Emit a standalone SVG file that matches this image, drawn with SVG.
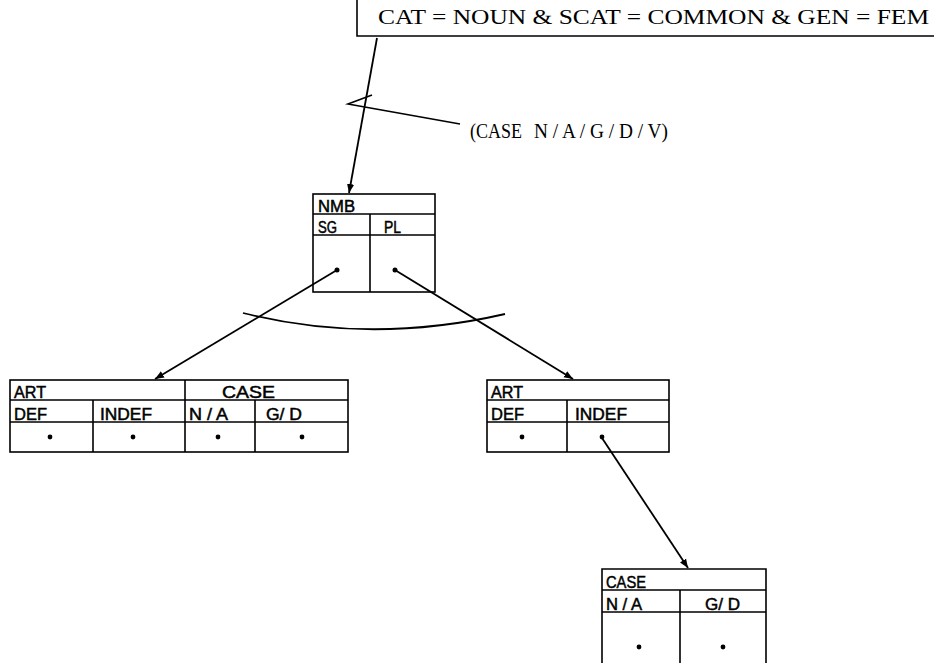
<svg xmlns="http://www.w3.org/2000/svg" width="934" height="663" viewBox="0 0 934 663">
<defs>
<marker id="ah" viewBox="0 0 10 10" refX="10" refY="5" markerWidth="9" markerHeight="9" markerUnits="userSpaceOnUse" orient="auto">
<path d="M0,1 L10,5 L0,9 z" fill="#000"/>
</marker>
<style>
.box{fill:none;stroke:#000;stroke-width:1.6}
.ln{fill:none;stroke:#000;stroke-width:1.6}
.con{fill:none;stroke:#000;stroke-width:1.8}
.lbl{font-family:"Liberation Sans Narrow","Liberation Sans",Arial,sans-serif;font-size:17px;fill:#000;stroke:#000;stroke-width:0.5}
.ser{font-family:"Liberation Serif","Times New Roman",serif;font-size:20px;fill:#000}
.dot{fill:#000}
</style>
</defs>
<rect width="934" height="663" fill="#fff"/>

<g id="header">
<path class="ln" d="M357,0 V36 H934"/>
<text class="ser" x="378" y="24" textLength="551" lengthAdjust="spacingAndGlyphs">CAT = NOUN &amp; SCAT = COMMON &amp; GEN = FEM</text>
</g>

<g id="case-label">
<path class="ln" d="M460,124 L348,104 L372,95"/>
<text class="ser" x="470" y="138" textLength="52" lengthAdjust="spacingAndGlyphs">(CASE</text>
<text class="ser" x="534" y="138" textLength="134" lengthAdjust="spacingAndGlyphs">N / A / G / D / V)</text>
</g>

<g id="nmb">
<rect class="box" x="313" y="194" width="122" height="98"/>
<path class="ln" d="M313,214 H435 M313,235 H435 M370,214 V292"/>
<text class="lbl" x="318" y="211.5" textLength="37" lengthAdjust="spacingAndGlyphs">NMB</text>
<text class="lbl" x="318" y="232.5" textLength="19" lengthAdjust="spacingAndGlyphs">SG</text>
<text class="lbl" x="384" y="232.5" textLength="17" lengthAdjust="spacingAndGlyphs">PL</text>
<circle class="dot" cx="337" cy="270" r="2.5"/>
<circle class="dot" cx="395" cy="270" r="2.5"/>
</g>

<g id="left-box">
<rect class="box" x="10" y="380" width="338" height="72"/>
<path class="ln" d="M10,400 H348 M10,422 H348 M185,380 V452 M93,400 V452 M255,400 V452"/>
<text class="lbl" x="14" y="397.5" textLength="32" lengthAdjust="spacingAndGlyphs">ART</text>
<text class="lbl" x="222" y="397.5" textLength="53" lengthAdjust="spacingAndGlyphs">CASE</text>
<text class="lbl" x="14" y="419.5" textLength="33" lengthAdjust="spacingAndGlyphs">DEF</text>
<text class="lbl" x="100" y="419.5" textLength="52" lengthAdjust="spacingAndGlyphs">INDEF</text>
<text class="lbl" x="189" y="419.5" textLength="39" lengthAdjust="spacingAndGlyphs">N / A</text>
<text class="lbl" x="266" y="419.5" textLength="36" lengthAdjust="spacingAndGlyphs">G/ D</text>
<circle class="dot" cx="50" cy="437" r="2.4"/>
<circle class="dot" cx="133" cy="437" r="2.4"/>
<circle class="dot" cx="218" cy="437" r="2.4"/>
<circle class="dot" cx="302" cy="437" r="2.4"/>
</g>

<g id="right-box">
<rect class="box" x="487" y="380" width="182" height="72"/>
<path class="ln" d="M487,400 H669 M487,422 H669 M567,400 V452"/>
<text class="lbl" x="491" y="397.5" textLength="32" lengthAdjust="spacingAndGlyphs">ART</text>
<text class="lbl" x="491" y="419.5" textLength="33" lengthAdjust="spacingAndGlyphs">DEF</text>
<text class="lbl" x="575" y="419.5" textLength="52" lengthAdjust="spacingAndGlyphs">INDEF</text>
<circle class="dot" cx="522" cy="437" r="2.4"/>
<circle class="dot" cx="602" cy="437" r="2.4"/>
</g>

<g id="case-box">
<path class="box" d="M602,663 V569 H766 V663"/>
<path class="ln" d="M602,590 H766 M602,612 H766 M680,590 V663"/>
<text class="lbl" x="606" y="587.5" textLength="40" lengthAdjust="spacingAndGlyphs">CASE</text>
<text class="lbl" x="606" y="609.5" textLength="36" lengthAdjust="spacingAndGlyphs">N / A</text>
<text class="lbl" x="705" y="609.5" textLength="35" lengthAdjust="spacingAndGlyphs">G/ D</text>
<circle class="dot" cx="639" cy="647" r="2.4"/>
<circle class="dot" cx="723" cy="647" r="2.4"/>
</g>

<g id="connectors">
<line class="con" x1="377" y1="38" x2="349" y2="193" marker-end="url(#ah)"/>
<line class="con" x1="337" y1="270" x2="155" y2="379" marker-end="url(#ah)"/>
<line class="con" x1="395" y1="270" x2="573" y2="379" marker-end="url(#ah)"/>
<line class="con" x1="602" y1="438" x2="688" y2="568" marker-end="url(#ah)"/>
<path class="con" d="M243,313 Q370,345 505,314"/>
</g>
</svg>
